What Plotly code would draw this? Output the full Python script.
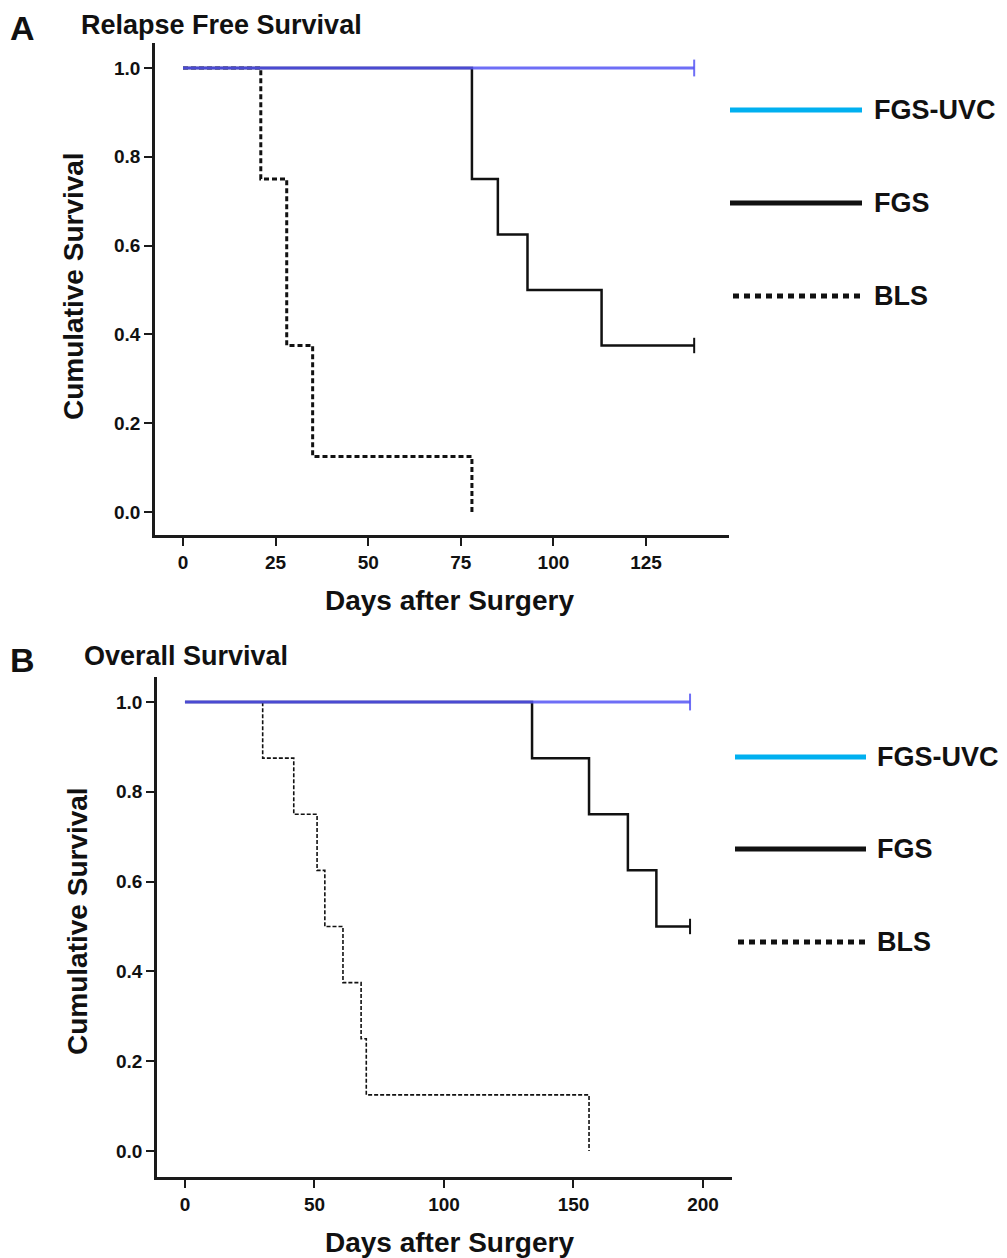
import plotly.graph_objects as go

# ---------------- data ----------------
# Panel A: Relapse Free Survival (days, cumulative survival)
a_uvc_days = [0, 138]
a_uvc_surv = [1.0, 1.0]
a_fgs_days = [0, 78, 85, 93, 113, 138]
a_fgs_surv = [1.0, 0.75, 0.625, 0.5, 0.375, 0.375]
a_bls_days = [0, 21, 28, 35, 78]
a_bls_surv = [1.0, 0.75, 0.375, 0.125, 0.0]

# Panel B: Overall Survival
b_uvc_days = [0, 195]
b_uvc_surv = [1.0, 1.0]
b_fgs_days = [0, 134, 156, 171, 182, 195]
b_fgs_surv = [1.0, 0.875, 0.75, 0.625, 0.5, 0.5]
b_bls_days = [0, 30, 42, 51, 54, 61, 68, 70, 156]
b_bls_surv = [1.0, 0.875, 0.75, 0.625, 0.5, 0.375, 0.25, 0.125, 0.0]

a_xticks = [0, 25, 50, 75, 100, 125]
b_xticks = [0, 50, 100, 150, 200]
y_ticks = [0.0, 0.2, 0.4, 0.6, 0.8, 1.0]
y_ticklabels = ["0.0", "0.2", "0.4", "0.6", "0.8", "1.0"]

group_names = ["FGS-UVC", "FGS", "BLS"]

# ---------------- styling ----------------
OFF = 8  # page body margin
W, H = 1007 - OFF, 1258 - OFF
FONT = "Liberation Sans, Arial, Helvetica, sans-serif"
BLUE = "rgba(85,85,245,0.85)"
CYAN = "#00b0f0"
BLACK = "#111111"


def px_x(p):
    return (p - OFF) / W


def px_y(p):
    return 1 - (p - OFF) / H


fig = go.Figure()


def add_panel(xa, ya, uvc, fgs, bls, bls_dash, bls_width):
    # FGS (solid black)
    fig.add_trace(go.Scatter(x=fgs[0], y=fgs[1], mode="lines", line=dict(color=BLACK, width=2.5, shape="hv"),
                             xaxis=xa, yaxis=ya, showlegend=False, hoverinfo="skip"))
    # BLS (dotted/dashed)
    fig.add_trace(go.Scatter(x=bls[0], y=bls[1], mode="lines",
                             line=dict(color=BLACK, width=bls_width, shape="hv", dash=bls_dash),
                             xaxis=xa, yaxis=ya, showlegend=False, hoverinfo="skip"))
    # FGS censor mark
    fig.add_trace(go.Scatter(x=fgs[0][-1:], y=fgs[1][-1:], mode="markers",
                             marker=dict(symbol="line-ns", size=11, line=dict(color=BLACK, width=2)),
                             xaxis=xa, yaxis=ya, showlegend=False, hoverinfo="skip"))
    # FGS-UVC (blue, on top)
    fig.add_trace(go.Scatter(x=uvc[0], y=uvc[1], mode="lines", line=dict(color=BLUE, width=3, shape="hv"),
                             xaxis=xa, yaxis=ya, showlegend=False, hoverinfo="skip"))
    fig.add_trace(go.Scatter(x=uvc[0][-1:], y=uvc[1][-1:], mode="markers",
                             marker=dict(symbol="line-ns", size=12, line=dict(color=BLUE, width=2)),
                             xaxis=xa, yaxis=ya, showlegend=False, hoverinfo="skip"))


add_panel("x", "y", (a_uvc_days, a_uvc_surv), (a_fgs_days, a_fgs_surv), (a_bls_days, a_bls_surv),
          "5px,3px", 3)
add_panel("x2", "y2", (b_uvc_days, b_uvc_surv), (b_fgs_days, b_fgs_surv), (b_bls_days, b_bls_surv),
          "4px,2px", 1.6)

axis_common = dict(showgrid=False, zeroline=False, showline=True, linecolor="#1a1a1a", linewidth=2.5,
                   ticks="outside", ticklen=8, tickwidth=2, tickcolor="#1a1a1a",
                   tickfont=dict(family=FONT, size=19, color="#111", weight="bold"), mirror=False)

fig.update_layout(
    width=W, height=H,
    margin=dict(l=0, r=0, t=0, b=0),
    paper_bgcolor="white", plot_bgcolor="white",
    showlegend=False,
    xaxis=dict(domain=[px_x(155), px_x(729)], range=[-7.56, 147.4], anchor="y",
               tickvals=a_xticks, ticktext=[str(v) for v in a_xticks], **axis_common),
    yaxis=dict(domain=[px_y(535), px_y(43)], range=[-0.0518, 1.0563], anchor="x",
               tickvals=y_ticks, ticktext=y_ticklabels, **axis_common),
    xaxis2=dict(domain=[px_x(157), px_x(732)], range=[-10.8, 211.2], anchor="y2",
                tickvals=b_xticks, ticktext=[str(v) for v in b_xticks], **axis_common),
    yaxis2=dict(domain=[px_y(1177), px_y(677)], range=[-0.058, 1.0557], anchor="x2",
                tickvals=y_ticks, ticktext=y_ticklabels, **axis_common),
)

annotations = []


def txt(text, x, y, size, xanchor="left", textangle=0):
    annotations.append(dict(text="<b>%s</b>" % text, x=px_x(x), y=px_y(y), xref="paper", yref="paper",
                            xanchor=xanchor, yanchor="middle", showarrow=False, textangle=textangle,
                            font=dict(family=FONT, size=size, color="#111")))


# panel labels and titles
txt("A", 8, 28, 34)
txt("Relapse Free Survival", 79, 25, 27)
txt("B", 8, 660, 34)
txt("Overall Survival", 82, 656, 27)

# axis titles
txt("Cumulative Survival", 74, 286, 28, xanchor="center", textangle=-90)
txt("Days after Surgery", 449, 600, 28, xanchor="center")
txt("Cumulative Survival", 77, 921, 28, xanchor="center", textangle=-90)
txt("Days after Surgery", 449, 1242, 28, xanchor="center")

# legend (drawn as shapes + text)
shapes = []
legend_styles = [dict(color=CYAN, width=5), dict(color=BLACK, width=5), dict(color=BLACK, width=5, dash="6px,5px")]


def legend(x0, x1, text_x, ys, dotted_shift):
    for name, style, yy in zip(group_names, legend_styles, ys):
        sx0, sx1 = (x0 + dotted_shift, x1 + dotted_shift) if "dash" in style else (x0, x1)
        shapes.append(dict(type="line", xref="paper", yref="paper", x0=px_x(sx0), x1=px_x(sx1),
                           y0=px_y(yy), y1=px_y(yy), line=style))
        txt(name, text_x, yy, 27)


legend(730, 862, 872, [110, 203, 296], 3)
legend(735, 866, 875, [757, 849, 942], 3)

fig.update_layout(annotations=annotations, shapes=shapes)

fig.write_html("out.html")
